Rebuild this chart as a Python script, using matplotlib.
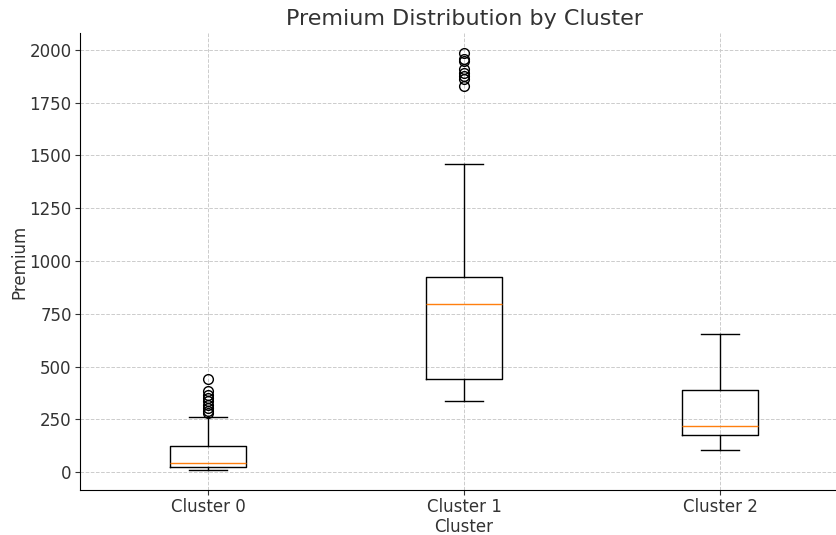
import matplotlib
matplotlib.use("Agg")
import matplotlib.pyplot as plt

clusters = ["Cluster 0", "Cluster 1", "Cluster 2"]
whislo = [10, 335, 105]
q1 = [22, 440, 175]
med = [45, 795, 220]
q3 = [122, 925, 390]
whishi = [260, 1460, 655]
fliers = [
    [280, 290, 305, 320, 335, 350, 365, 385, 440],
    [1830, 1860, 1875, 1890, 1910, 1945, 1955, 1985],
    [],
]

stats = []
for i, name in enumerate(clusters):
    stats.append(dict(label=name, whislo=whislo[i], q1=q1[i], med=med[i],
                      q3=q3[i], whishi=whishi[i], fliers=fliers[i]))

fig = plt.figure(figsize=(8.37, 5.35), dpi=100)
ax = fig.add_axes([80/837, 45/535, 768/837, 457/535])
ax.bxp(stats, positions=[1, 2, 3], widths=0.3,
       flierprops=dict(marker="o", markerfacecolor="none", markeredgecolor="black", markersize=7),
       medianprops=dict(color="#ff7f0e", linewidth=1),
       boxprops=dict(color="black"), whiskerprops=dict(color="black"),
       capprops=dict(color="black"))
ax.set_xlim(0.5, 3.5)
ax.set_ylim(-85, 2080)
ax.set_yticks([0, 250, 500, 750, 1000, 1250, 1500, 1750, 2000])
ax.grid(True, linestyle="--", color="#cccccc", linewidth=0.7)
ax.set_axisbelow(True)
for s in ["top", "right"]:
    ax.spines[s].set_visible(False)
ax.tick_params(labelsize=12, colors="#333333", pad=2.5)
ax.set_title("Premium Distribution by Cluster", fontsize=16, color="#333333")
ax.set_xlabel("Cluster", fontsize=12, color="#333333", labelpad=1)
ax.set_ylabel("Premium", fontsize=12, color="#333333", labelpad=1)
fig.savefig("out.png", dpi=100)
